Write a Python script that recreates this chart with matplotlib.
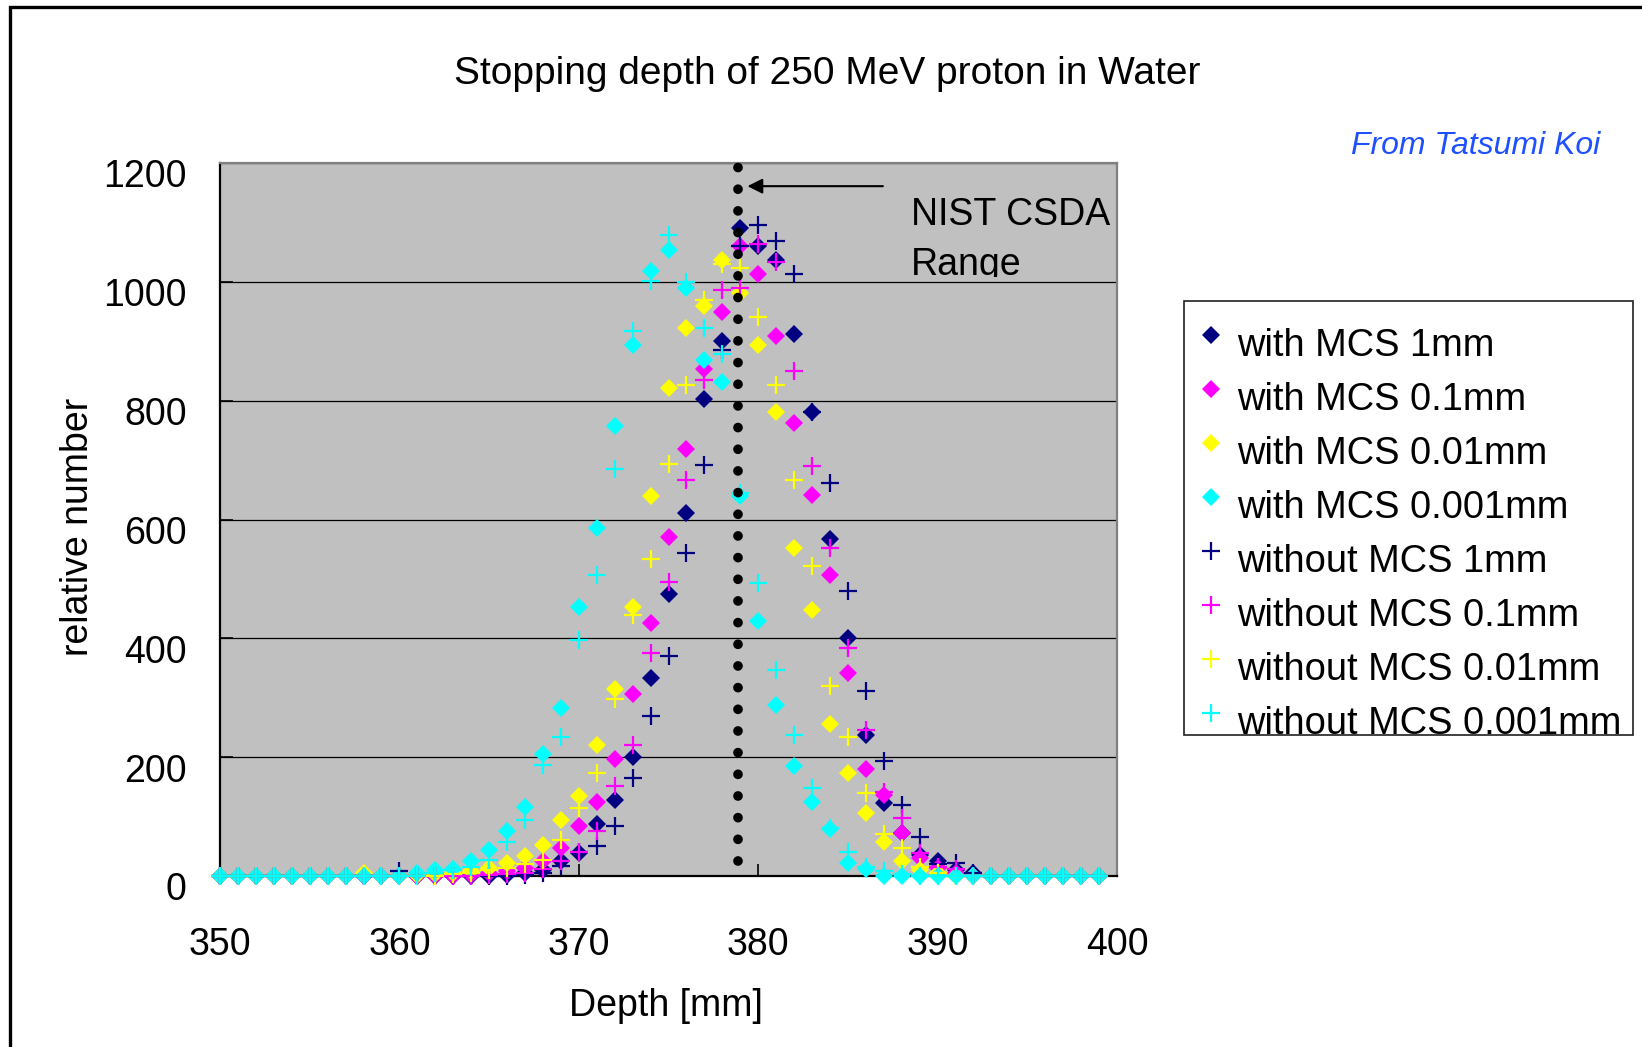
import numpy as np
import matplotlib.pyplot as plt
from matplotlib.patches import Rectangle
from matplotlib.lines import Line2D
from matplotlib.transforms import ScaledTranslation

plt.rcParams['font.family'] = ['Liberation Sans', 'DejaVu Sans']

# depth bins [mm]
depth = list(range(350, 400))

# relative number per bin
with_1mm = [0] * 16 + [2, 5, 10, 25, 39, 88, 128, 201, 333, 475, 611, 803, 900, 1091,
                       1060, 1037, 912, 781, 567, 401, 238, 123, 72, 35, 25, 10, 5] + [0] * 7
with_01mm = [0] * 14 + [2, 5, 8, 13, 25, 47, 84, 125, 197, 306, 425, 571, 718, 853, 949,
                        1060, 1014, 908, 763, 642, 507, 341, 180, 137, 72, 30, 13, 5] + [0] * 8
with_001mm = [0] * 8 + [5, 0, 0, 2, 3, 5, 8, 13, 22, 33, 53, 94, 134, 220, 315, 453, 640,
                        821, 922, 959, 1036, 981, 894, 781, 552, 448, 256, 174, 106, 58,
                        25, 10, 5] + [0] * 9
with_0001mm = [0] * 11 + [5, 10, 12, 25, 44, 75, 116, 206, 283, 453, 585, 758, 894, 1018,
                          1054, 990, 869, 831, 640, 429, 288, 185, 124, 79, 22, 11] + [0] * 13
without_1mm = [0] * 10 + [8] + [0] * 6 + [2, 5, 16, 40, 50, 84, 165, 270, 371, 544, 691,
                                          885, 1060, 1096, 1068, 1014, 781, 662, 479, 311,
                                          193, 120, 65, 20, 22, 5] + [0] * 7
without_01mm = [0] * 15 + [2, 3, 5, 12, 25, 41, 75, 152, 220, 375, 494, 667, 835, 987, 990,
                           1063, 1033, 850, 690, 552, 384, 246, 142, 98, 39, 15, 12] + [0] * 8
without_001mm = [0] * 13 + [3, 5, 10, 13, 20, 27, 61, 114, 174, 298, 440, 534, 694, 827,
                            970, 1030, 1023, 941, 827, 667, 521, 319, 234, 139, 70, 47, 15,
                            5] + [0] * 9
without_0001mm = [0] * 12 + [5, 10, 15, 27, 58, 94, 187, 234, 398, 507, 685, 918, 1001, 1078,
                             1000, 922, 878, 645, 493, 347, 238, 148, 80, 40, 15, 8, 3] + [0] * 11

series = [with_1mm, with_01mm, with_001mm, with_0001mm,
          without_1mm, without_01mm, without_001mm, without_0001mm]
labels = ['with MCS 1mm', 'with MCS 0.1mm', 'with MCS 0.01mm', 'with MCS 0.001mm',
          'without MCS 1mm', 'without MCS 0.1mm', 'without MCS 0.01mm', 'without MCS 0.001mm']
colors = ['#000080', '#ff00ff', '#ffff00', '#00ffff'] * 2
markers = ['D'] * 4 + ['+'] * 4

csda = 378.9
W, H = 1642, 1047

fig = plt.figure(figsize=(W / 100, H / 100), dpi=100)
ax = fig.add_axes([220 / W, 1 - 876 / H, 897 / W, 713 / H])
ax.set_facecolor('#c0c0c0')


def mstyle(m):
    if m == 'D':
        return dict(ms=9.5, mew=0)
    return dict(ms=13, mew=1.6)


for i, (vals, c, m) in enumerate(zip(series, colors, markers)):
    ax.plot(depth, vals, linestyle='none', marker=m, color=c, clip_on=False,
            zorder=3 + i, **mstyle(m))

# NIST CSDA range marker
ax.plot([csda, csda], [25, 1196], color='black', lw=7, linestyle=(0, (0.001, 2.228)),
        dash_capstyle='round', zorder=20, clip_on=False)
ax.annotate('', xy=(379.4, 1161), xytext=(386.95, 1161),
            arrowprops=dict(arrowstyle='-|>,head_length=0.9,head_width=0.45',
                            color='black', lw=1.5, shrinkA=0, shrinkB=0), zorder=21)
clip = Rectangle((388, 1008), 12, 192, transform=ax.transData)
for txt, yb in [('NIST CSDA', 1096), ('Range', 1012)]:
    t = ax.text(388.5, yb, txt, fontsize=27, va='baseline', ha='left', zorder=22)
    t.set_clip_path(clip)
    t.set_clip_on(True)

ax.set_xlim(350, 400)
ax.set_ylim(0, 1200)
ax.set_xticks(range(350, 401, 10))
ax.set_yticks(range(0, 1201, 200))
ax.yaxis.grid(True, color='black', lw=0.9)
ax.set_axisbelow(True)
ax.tick_params(direction='in', length=9, width=1.2, labelsize=27)
ax.tick_params(axis='x', pad=37)
ax.tick_params(axis='y', pad=24)
# Excel draws the value labels a little below their gridlines
shift = ScaledTranslation(0, -7.5 / 72, fig.dpi_scale_trans)
for lab in ax.get_yticklabels():
    lab.set_transform(lab.get_transform() + shift)
for s in ['left', 'bottom']:
    ax.spines[s].set_color('black')
    ax.spines[s].set_linewidth(1.6)
for s in ['top', 'right']:
    ax.spines[s].set_color('#808080')
    ax.spines[s].set_linewidth(1.6)

ax.set_xlabel('Depth [mm]', fontsize=27, va='center')
ax.xaxis.set_label_coords(0.497, -0.183)
ax.set_ylabel('relative number', fontsize=27, va='center')
ax.yaxis.set_label_coords(-0.158, 0.489)

fig.text(827 / W, 1 - 84 / H, 'Stopping depth of 250 MeV proton in Water',
         fontsize=28, ha='center', va='baseline')
fig.text(1600 / W, 1 - 154 / H, 'From Tatsumi Koi', fontsize=23, style='italic',
         color='#1f50ff', ha='right', va='baseline')

# legend box, last entry is cut off by the frame like in the original
box = Rectangle((1184 / W, 1 - 735 / H), 449 / W, 433.5 / H, transform=fig.transFigure,
                facecolor='white', edgecolor='#202020', lw=1.2, zorder=1)
fig.add_artist(box)
for i, (lab, c, m) in enumerate(zip(labels, colors, markers)):
    ym = 335 + 54 * i
    yt = 356 + 54 * i
    fig.add_artist(Line2D([1211 / W], [1 - ym / H], transform=fig.transFigure,
                          marker=m, color=c, linestyle='none', zorder=2, **mstyle(m)))
    t = fig.text(1237 / W, 1 - yt / H, lab, fontsize=27.4, va='baseline', ha='left', zorder=2)
    t.set_clip_path(box)
    t.set_clip_on(True)

# outer chart frame (right/bottom edges lie outside the picture)
fig.add_artist(Rectangle((9.5 / W, -0.1), 1.2, 1.1 - 7 / H, transform=fig.transFigure,
                         fill=False, edgecolor='black', lw=2.4, zorder=0))

fig.savefig('out.png', dpi=100)
